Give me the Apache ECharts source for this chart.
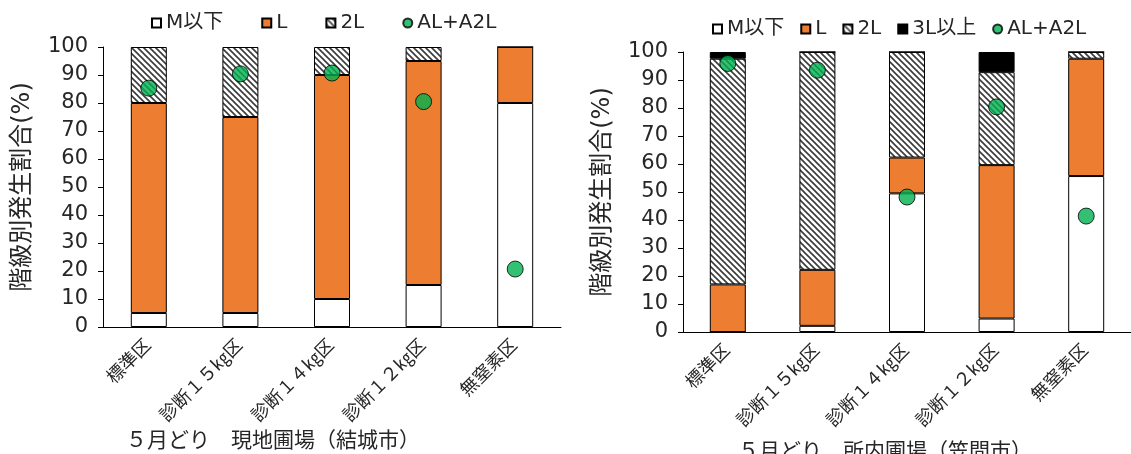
<!DOCTYPE html>
<html>
<head>
<meta charset="utf-8">
<script src="https://cdn.jsdelivr.net/npm/echarts@6/dist/echarts.min.js"></script>
<style>html,body{margin:0;padding:0;background:#fff;}#c{width:1131px;height:454px;}</style>
</head>
<body>
<div id="c"></div>
<script>
// ---- data ----
const categories = ['標準区', '診断１５㎏区', '診断１４㎏区', '診断１２㎏区', '無窒素区'];
const yTicks = [0, 10, 20, 30, 40, 50, 60, 70, 80, 90, 100];
// left: 現地圃場（結城市）
const leftM  = [5, 5, 10, 15, 80];
const leftL  = [75, 70, 80, 80, 20];
const left2L = [20, 25, 10, 5, 0];
const leftAL = [85.3, 90.4, 90.7, 80.5, 20.7];
// right: 所内圃場（笠間市）
const rightM  = [0, 2.2, 49.5, 4.8, 55.7];
const rightL  = [17.0, 20.0, 12.8, 54.8, 41.9];
const right2L = [80.6, 77.8, 37.7, 33.2, 2.4];
const right3L = [2.4, 0, 0, 7.2, 0];
const rightAL = [95.9, 93.5, 48.2, 80.4, 41.4];
const titleLeft = '５月どり　現地圃場（結城市）';
const titleRight = '５月どり　所内圃場（笠間市）';
const yName = '階級別発生割合(%)';

// hatch pattern
const pc = document.createElement('canvas');
pc.width = 6; pc.height = 6;
const g = pc.getContext('2d');
g.fillStyle = '#fff'; g.fillRect(0, 0, 6, 6);
g.strokeStyle = '#3a3a3a'; g.lineWidth = 1.6;
for (let k = -1; k <= 1; k++) {
  g.beginPath(); g.moveTo(k * 6 - 1, -1); g.lineTo(k * 6 + 7, 7); g.stroke();
}
const hatch = { image: pc, repeat: 'repeat' };

const FONT = 'DejaVu Sans, "Noto Sans CJK JP", sans-serif';
const TXT = '#262626';
const ORANGE = '#ED7D31';
const GREEN = '#00B050';

function barSeries(name, data, color, idx) {
  return {
    name: name, type: 'bar', stack: 's' + idx, data: data,
    xAxisIndex: idx, yAxisIndex: idx, barWidth: 36,
    itemStyle: { color: color, borderColor: '#000', borderWidth: 1 },
    emphasis: { disabled: true }
  };
}
function dotSeries(data, idx) {
  return {
    name: 'AL+A2L', type: 'scatter', data: data, xAxisIndex: idx, yAxisIndex: idx,
    symbol: 'circle', symbolSize: 16, z: 5,
    itemStyle: { color: GREEN, borderColor: '#000', borderWidth: 1 },
    emphasis: { disabled: true }
  };
}
function xAx(idx) {
  return {
    type: 'category', gridIndex: idx, data: categories,
    axisLine: { lineStyle: { color: '#000', width: 1 } },
    axisTick: { show: false },
    axisLabel: { interval: 0, rotate: 45, fontSize: 18, color: TXT, fontFamily: FONT, margin: 16 }
  };
}
function yAx(idx) {
  return {
    type: 'value', gridIndex: idx, min: yTicks[0], max: yTicks[yTicks.length - 1], interval: 10,
    name: yName, nameLocation: 'middle', nameGap: 68, nameRotate: 90,
    nameTextStyle: { fontSize: 24, color: TXT, fontFamily: FONT },
    axisLine: { show: true, lineStyle: { color: '#000', width: 1 } },
    axisTick: { show: true, length: 5, lineStyle: { color: '#000' } },
    splitLine: { show: false },
    axisLabel: { fontSize: 21, color: TXT, fontFamily: FONT, margin: 15 }
  };
}
const legendText = { fontSize: 20, color: TXT, fontFamily: FONT };

const option = {
  animation: false,
  backgroundColor: '#fff',
  title: [
    { text: titleLeft, left: 268, textAlign: 'center', top: 424, textStyle: { fontSize: 21, fontWeight: 'normal', color: TXT, fontFamily: '"Noto Sans CJK JP"' } },
    { text: titleRight, left: 880, textAlign: 'center', top: 435, textStyle: { fontSize: 21, fontWeight: 'normal', color: TXT, fontFamily: '"Noto Sans CJK JP"' } }
  ],
  legend: [
    { left: 146, top: 8, itemWidth: 9, itemHeight: 9, itemGap: 38, textStyle: legendText,
      data: [{ name: 'M以下', icon: 'rect' }, { name: 'L', icon: 'rect' }, { name: '2L', icon: 'rect' }, { name: 'AL+A2L', icon: 'circle' }] },
    { left: 707, top: 14, itemWidth: 9, itemHeight: 9, itemGap: 16, textStyle: legendText,
      data: [{ name: 'M以下', icon: 'rect' }, { name: 'L', icon: 'rect' }, { name: '2L', icon: 'rect' }, { name: '3L以上', icon: 'rect' }, { name: 'AL+A2L', icon: 'circle' }] }
  ],
  grid: [
    { left: 103, top: 47, width: 458, height: 280 },
    { left: 683, top: 52, width: 458, height: 280 }
  ],
  xAxis: [xAx(0), xAx(1)],
  yAxis: [yAx(0), yAx(1)],
  series: [
    barSeries('M以下', leftM, '#fff', 0),
    barSeries('L', leftL, ORANGE, 0),
    barSeries('2L', left2L, hatch, 0),
    dotSeries(leftAL, 0),
    barSeries('M以下', rightM, '#fff', 1),
    barSeries('L', rightL, ORANGE, 1),
    barSeries('2L', right2L, hatch, 1),
    barSeries('3L以上', right3L, '#000', 1),
    dotSeries(rightAL, 1)
  ]
};
const chart = echarts.init(document.getElementById('c'), null, { renderer: 'canvas' });
chart.setOption(option);
</script>
</body>
</html>
